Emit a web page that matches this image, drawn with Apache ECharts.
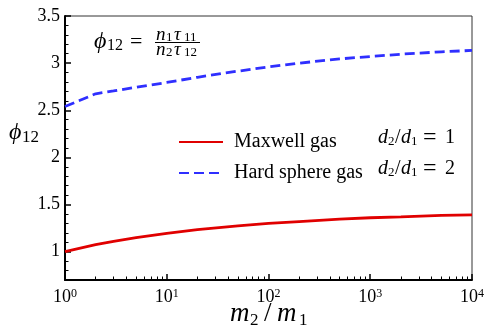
<!DOCTYPE html>
<html>
<head>
<meta charset="utf-8">
<script src="https://cdn.jsdelivr.net/npm/echarts@6/dist/echarts.min.js"></script>
<style>
  html, body { margin: 0; padding: 0; background: #fff; }
  #chart { width: 497px; height: 332px; }
</style>
</head>
<body>
<div id="chart"></div>
<script>
// m2/m1 sample points
const massRatio = [1, 2, 3, 5, 10, 20, 50, 100, 200, 500, 1000, 2000, 5000, 10000]
// phi_12, Maxwell gas, d2/d1 = 1
const maxwellGas = [1.0, 1.075, 1.11, 1.15, 1.195, 1.235, 1.275, 1.3, 1.32, 1.345, 1.36, 1.37, 1.385, 1.39]
// phi_12, hard sphere gas, d2/d1 = 2
const hardSphereGas = [2.54, 2.675, 2.705, 2.745, 2.795, 2.85, 2.915, 2.96, 3.0, 3.045, 3.07, 3.095, 3.12, 3.135]

const xTickValues = [1, 10, 100, 1000, 10000]
const xTickExponents = ['0', '1', '2', '3', '4']
const xMinorValues = [2, 3, 4, 5, 6, 7, 8, 9, 20, 30, 40, 50, 60, 70, 80, 90,
  200, 300, 400, 500, 600, 700, 800, 900, 2000, 3000, 4000, 5000, 6000, 7000, 8000, 9000]
const yTickValues = [1, 1.5, 2, 2.5, 3, 3.5]
const yMinorValues = [0.8, 0.9, 1.1, 1.2, 1.3, 1.4, 1.6, 1.7, 1.8, 1.9, 2.1, 2.2, 2.3, 2.4,
  2.6, 2.7, 2.8, 2.9, 3.1, 3.2, 3.3, 3.4]

const SERIF = 'Liberation Serif'

// bits of math text, each piece placed by hand: [text, x, size, dy, italic]
function mathText(y, parts) {
  return parts.map(([text, x, size, dy, italic]) => ({
    type: 'text',
    x: x,
    y: y + dy,
    z: 100,
    style: {
      text: text,
      font: (italic ? 'italic ' : '') + size + 'px "Liberation Serif"',
      fill: '#000',
      textVerticalAlign: 'middle',
      verticalAlign: 'middle',
    },
  }))
}

let myChart = echarts.init(document.getElementById('chart'))

var option = {
  animation: false,
  grid: {
    left: 65,
    right: 25,
    top: 16,
    bottom: 52,
    show: true,
    borderColor: '#333',
    borderWidth: 1,
  },
  legend: {
    orient: 'vertical',
    left: 173,
    top: 127,
    itemWidth: 44,
    itemHeight: 20,
    itemGap: 11,
    itemStyle: { opacity: 0 },
    textStyle: {
      fontFamily: SERIF,
      fontSize: 20,
      color: '#000',
      padding: [0, 0, 0, 6],
    },
    data: ['Maxwell gas', 'Hard sphere gas'],
  },
  xAxis: [
    {
      type: 'log',
      logBase: 10,
      min: 1,
      max: 10000,
      axisLine: { lineStyle: { color: '#000', width: 2 } },
      axisTick: {
        inside: true,
        length: 6,
        customValues: xTickValues,
        lineStyle: { color: '#000', width: 1.5 },
      },
      axisLabel: {
        customValues: xTickValues,
        margin: 8,
        color: '#000',
        fontFamily: SERIF,
        formatter: (v) => {
          let i = xTickValues.indexOf(v)
          return '{b|10}{s|' + xTickExponents[i] + '}'
        },
        rich: {
          b: { fontFamily: SERIF, fontSize: 18, color: '#000', lineHeight: 18 },
          s: { fontFamily: SERIF, fontSize: 12, color: '#000', lineHeight: 12, verticalAlign: 'top' },
        },
      },
      splitLine: { show: false },
    },
    {
      type: 'log',
      logBase: 10,
      min: 1,
      max: 10000,
      position: 'bottom',
      axisLine: { show: false },
      axisLabel: { show: false },
      axisTick: {
        inside: true,
        length: 3.5,
        customValues: xMinorValues,
        lineStyle: { color: '#000', width: 1 },
      },
      splitLine: { show: false },
    },
  ],
  yAxis: [
    {
      type: 'value',
      min: 0.7,
      max: 3.5,
      axisLine: { show: true, lineStyle: { color: '#000', width: 2 } },
      axisTick: {
        inside: true,
        length: 6,
        customValues: yTickValues,
        lineStyle: { color: '#000', width: 1.5 },
      },
      axisLabel: {
        customValues: yTickValues,
        margin: 5,
        fontFamily: SERIF,
        fontSize: 18,
        color: '#000',
      },
      splitLine: { show: false },
    },
    {
      type: 'value',
      min: 0.7,
      max: 3.5,
      position: 'left',
      axisLine: { show: false },
      axisLabel: { show: false },
      axisTick: {
        inside: true,
        length: 3.5,
        customValues: yMinorValues,
        lineStyle: { color: '#000', width: 1 },
      },
      splitLine: { show: false },
    },
  ],
  series: [
    {
      name: 'Maxwell gas',
      type: 'line',
      symbol: 'none',
      lineStyle: { color: '#e00000', width: 2.8 },
      itemStyle: { color: '#e00000' },
      data: massRatio.map((m, i) => [m, maxwellGas[i]]),
    },
    {
      name: 'Hard sphere gas',
      type: 'line',
      symbol: 'none',
      lineStyle: { color: '#2f2fff', width: 2.8, type: [10, 5] },
      itemStyle: { color: '#2f2fff' },
      data: massRatio.map((m, i) => [m, hardSphereGas[i]]),
    },
  ],
  graphic: [
    // phi_12 = n1 tau11 / n2 tau12
    ...mathText(42, [['ϕ', 94, 24, 0, true], ['12', 107, 16, 4], ['=', 130, 22, 0]]),
    ...mathText(35, [['n', 156, 19, 0, true], ['1', 166, 13, 3], ['τ', 174, 19, 0, true], ['11', 184, 13, 3]]),
    {
      type: 'line',
      z: 100,
      shape: { x1: 155, y1: 42.5, x2: 200, y2: 42.5 },
      style: { stroke: '#000', lineWidth: 1 },
    },
    ...mathText(50, [['n', 156, 19, 0, true], ['2', 166, 13, 3], ['τ', 174, 19, 0, true], ['12', 184, 13, 3]]),
    // y axis name
    ...mathText(133, [['ϕ', 9, 24, 0, true], ['12', 22, 17, 5]]),
    // x axis name m2 / m1
    ...mathText(314, [['m', 230, 27, 0, true], ['2', 250, 17, 7], ['/', 264, 27, 0], ['m', 277, 27, 0, true], ['1', 299, 17, 7]]),
    // legend right column
    ...mathText(138, [['d', 378, 20, 0, true], ['2', 388, 13, 4], ['/', 395, 20, 0], ['d', 401, 20, 0, true], ['1', 411, 13, 4], ['=', 423, 24, 0], ['1', 445, 20, 0]]),
    ...mathText(169, [['d', 378, 20, 0, true], ['2', 388, 13, 4], ['/', 395, 20, 0], ['d', 401, 20, 0, true], ['1', 411, 13, 4], ['=', 423, 24, 0], ['2', 445, 20, 0]]),
  ],
}

myChart.setOption(option)
</script>
</body>
</html>
